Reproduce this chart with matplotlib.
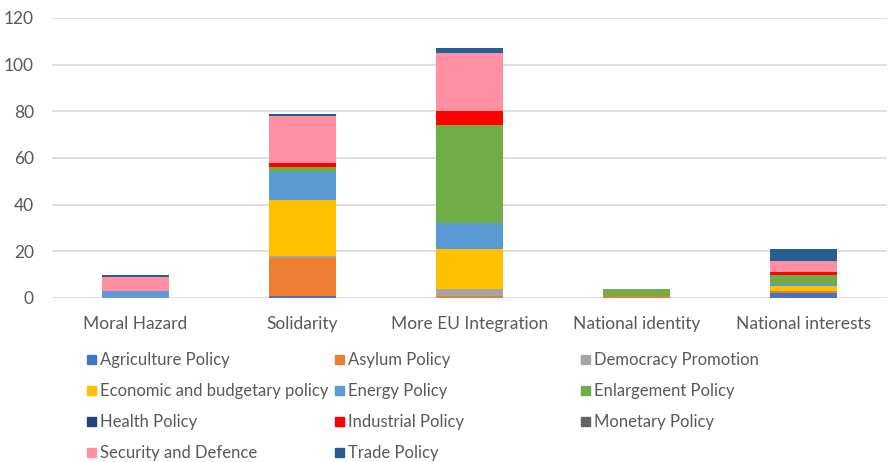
import numpy as np
import matplotlib.pyplot as plt
from matplotlib.patches import Rectangle

plt.rcParams['font.family'] = ['Lato', 'DejaVu Sans']

categories = ["Moral Hazard", "Solidarity", "More EU Integration",
              "National identity", "National interests"]

agriculture = [0, 1, 0, 0, 2]
asylum = [0, 16, 1, 1, 1]
democracy = [0, 1, 3, 0, 0]
economic = [0, 24, 17, 0, 2]
energy = [3, 12, 11, 0, 1]
enlargement = [0, 2, 42, 3, 4]
health = [0, 0, 0, 0, 0]
industrial = [0, 2, 6, 0, 1]
monetary = [0, 0, 0, 0, 0]
security = [6, 20, 25, 0, 5]
trade = [1, 1, 2, 0, 5]

series = [
    ("Agriculture Policy", agriculture, "#4472C4"),
    ("Asylum Policy", asylum, "#ED7D31"),
    ("Democracy Promotion", democracy, "#A5A5A5"),
    ("Economic and budgetary policy", economic, "#FFC000"),
    ("Energy Policy", energy, "#5B9BD5"),
    ("Enlargement Policy", enlargement, "#70AD47"),
    ("Health Policy", health, "#264478"),
    ("Industrial Policy", industrial, "#FF0000"),
    ("Monetary Policy", monetary, "#636363"),
    ("Security and Defence", security, "#FF8FA3"),
    ("Trade Policy", trade, "#255E91"),
]

text_col = "#595959"

fig = plt.figure(figsize=(8.88, 4.62), dpi=100)
ax = fig.add_axes([52 / 888, 1 - 298 / 462, 835 / 888, 280 / 462])

x = np.arange(len(categories))
bottom = np.zeros(len(categories))
for name, vals, col in series:
    vals = np.array(vals, dtype=float)
    ax.bar(x, vals, width=0.4, bottom=bottom, color=col, zorder=3)
    bottom += vals

ax.set_xlim(-0.5, len(categories) - 0.5)
ax.set_ylim(0, 120)
ax.set_yticks(range(0, 121, 20))
ax.yaxis.grid(True, color="#D9D9D9", linewidth=1.2, zorder=0)
ax.set_xticks(x)
ax.set_xticklabels(categories, fontsize=12.5)
for s in ax.spines.values():
    s.set_visible(False)
ax.tick_params(length=0, colors=text_col)
ax.tick_params(axis="x", pad=13)
ax.tick_params(axis="y", labelsize=12.5, pad=13)

# legend laid out row by row, three columns
col_x = [87, 335, 581]
row_y = [360, 391, 422, 453]
for i, (name, vals, col) in enumerate(series):
    cx = col_x[i % 3]
    cy = row_y[i // 3]
    fig.patches.append(Rectangle((cx / 888, 1 - (cy + 4) / 462), 9 / 888, 9 / 462,
                                 transform=fig.transFigure, color=col, figure=fig))
    fig.text((cx + 13) / 888, 1 - cy / 462, name, fontsize=12, color=text_col,
             va="center", ha="left")

fig.savefig("out.png", dpi=100)
